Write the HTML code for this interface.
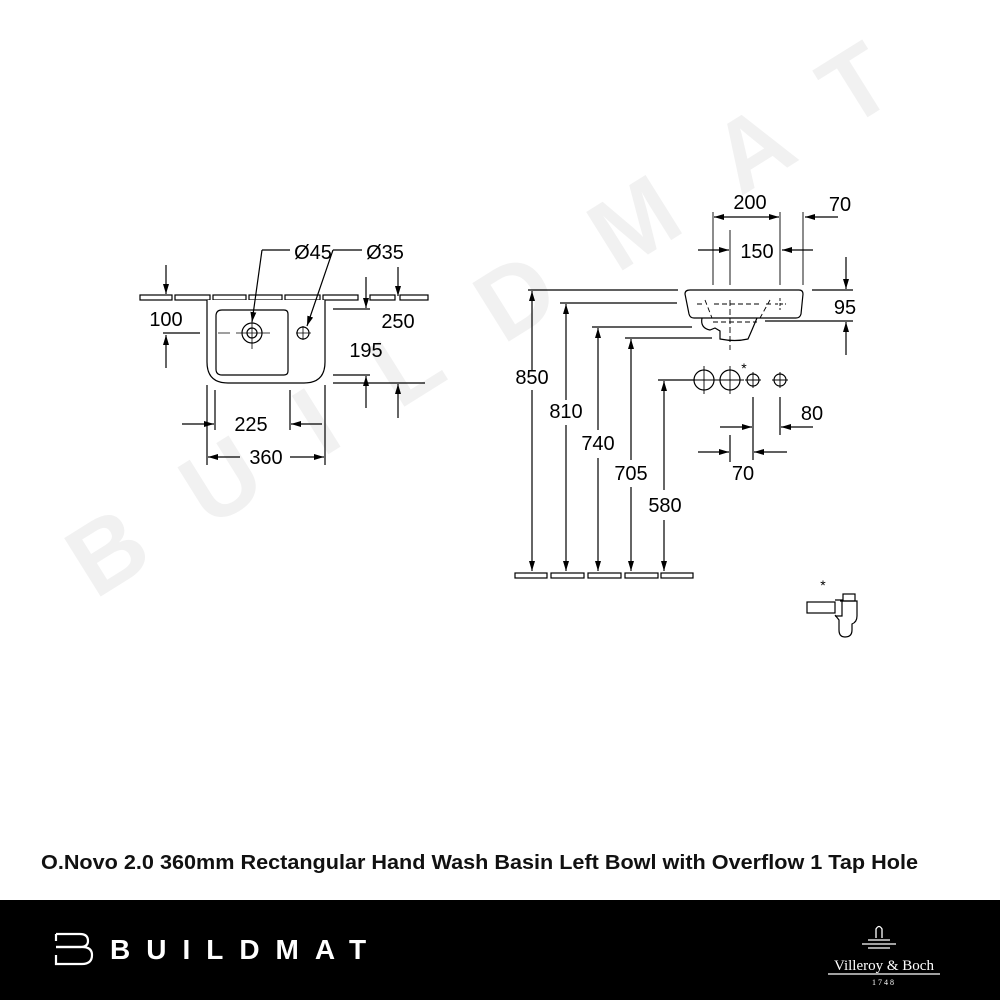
<!DOCTYPE html>
<html><head><meta charset="utf-8"><style>
html,body{margin:0;padding:0;background:#fff;width:1000px;height:1000px;overflow:hidden}
svg{display:block}
</style></head><body>
<svg width="1000" height="1000" viewBox="0 0 1000 1000" xmlns="http://www.w3.org/2000/svg">
<defs>
<marker id="a" viewBox="0 0 10 6" refX="10" refY="3" markerWidth="10" markerHeight="6" markerUnits="userSpaceOnUse" orient="auto"><path d="M0,0 L10,3 L0,6 Z" fill="#000"/></marker>
</defs>
<!-- watermark -->
<text x="0" y="0" transform="translate(95,600) rotate(-32)" font-family="Liberation Sans, sans-serif" font-weight="bold" font-size="100" fill="#f1f1f1" letter-spacing="62">BUILDMAT</text>

<g stroke="#000" stroke-width="1.2" fill="none" font-family="Liberation Sans, sans-serif">
<!-- LEFT VIEW -->
<g fill="none">
<rect x="140" y="295" width="32" height="5"/><rect x="175" y="295" width="35" height="5"/><rect x="213" y="295" width="33" height="5"/><rect x="249" y="295" width="33" height="5"/><rect x="285" y="295" width="35" height="5"/><rect x="323" y="295" width="35" height="5"/><rect x="370" y="295" width="25" height="5"/><rect x="400" y="295" width="28" height="5"/>
</g>
<path d="M207,300 V362 Q207,383 228,383 H304 Q325,383 325,362 V300" fill="#fff"/>
<path d="M222,310 H284 Q288,310 288,314 V371 Q288,375 284,375 H222 Q216,375 216,369 V316 Q216,310 222,310 Z"/>
<circle cx="252" cy="333" r="10"/><circle cx="252" cy="333" r="5"/>
<circle cx="303" cy="333" r="6"/>
<path d="M218,333 H230 M236,333 H270 M252,318 V349 M296,333 H311 M303,326 V340" stroke-width="0.8"/>
<path d="M262,250 H290 M262,250 L252,322" marker-end="url(#a)"/>
<path d="M333,250 H362 M333,250 L307,326" marker-end="url(#a)"/>
<!-- 100 -->
<path d="M166,265 V294" marker-end="url(#a)"/><path d="M166,368 V335" marker-end="url(#a)"/>
<path d="M163,333 H200"/>
<!-- 250/195 -->
<path d="M366,277 V308" marker-end="url(#a)"/><path d="M333,309 H370"/>
<path d="M398,267 V296" marker-end="url(#a)"/>
<path d="M333,375 H370 M333,383 H425"/>
<path d="M366,408 V376" marker-end="url(#a)"/><path d="M398,418 V384" marker-end="url(#a)"/>
<!-- 225 -->
<path d="M215,390 V430 M290,390 V430"/>
<path d="M182,424 H214" marker-end="url(#a)"/><path d="M322,424 H291" marker-end="url(#a)"/>
<!-- 360 -->
<path d="M207,385 V465 M325,385 V465"/>
<path d="M240,457 H208" marker-end="url(#a)"/><path d="M290,457 H324" marker-end="url(#a)"/>

<!-- RIGHT VIEW -->
<path d="M690,290 H799 Q803,290 803,294 L801,314 Q800,318 796,318 H694 Q690,318 689,314 L685,294 Q685,290 690,290 Z"/>
<path d="M702,318 Q700,328 710,330 L715,328 L720,331 V339 Q735,342 748,339 Q752,330 757,318" />
<path d="M705,300 L712,318 M770,300 L760,318 M697,304 H705 M714,304 H760 M766,304 H773 M713,322 H757" stroke-dasharray="5,3" stroke-width="0.9"/>
<path d="M780,298 V310 M775,304 H786" stroke-width="0.9" stroke-dasharray="3,2"/>
<path d="M713,212 V285 M730,230 V285 M780,212 V285 M803,212 V285" stroke-width="0.9"/>
<path d="M730,300 V350" stroke-dasharray="6,3" stroke-width="0.9"/>
<path d="M747,217 H714" marker-end="url(#a)"/><path d="M747,217 H779" marker-end="url(#a)"/>
<path d="M838,217 H805" marker-end="url(#a)"/>
<path d="M698,250 H729" marker-end="url(#a)"/><path d="M813,250 H782" marker-end="url(#a)"/>
<!-- 95 -->
<path d="M846,257 V289" marker-end="url(#a)"/><path d="M812,290 H853 M765,321 H853"/>
<path d="M846,355 V322" marker-end="url(#a)"/>
<!-- heights -->
<path d="M528,290 H678 M560,303 H677 M592,327 H692 M625,338 H712 M658,380 H695"/>
<path d="M532,370 V291" marker-end="url(#a)"/><path d="M532,390 V571" marker-end="url(#a)"/>
<path d="M566,400 V304" marker-end="url(#a)"/><path d="M566,425 V571" marker-end="url(#a)"/>
<path d="M598,430 V328" marker-end="url(#a)"/><path d="M598,458 V571" marker-end="url(#a)"/>
<path d="M631,460 V339" marker-end="url(#a)"/><path d="M631,487 V571" marker-end="url(#a)"/>
<path d="M664,490 V381" marker-end="url(#a)"/><path d="M664,520 V571" marker-end="url(#a)"/>
<rect x="515" y="573" width="32" height="5"/><rect x="551" y="573" width="33" height="5"/><rect x="588" y="573" width="33" height="5"/><rect x="625" y="573" width="33" height="5"/><rect x="661" y="573" width="32" height="5"/>
<!-- tap holes -->
<circle cx="704" cy="380" r="10"/><circle cx="730" cy="380" r="10"/><circle cx="753" cy="380" r="6"/><circle cx="780" cy="380" r="6"/>
<path d="M690,380 H718 M704,366 V394 M716,380 H744 M730,366 V394 M745,380 H761 M753,372 V388 M772,380 H788 M780,372 V388" stroke-width="0.9"/>
<!-- 80 / 70 -->
<path d="M753,397 V460 M780,397 V435 M730,435 V462"/>
<path d="M720,427 H752" marker-end="url(#a)"/><path d="M813,427 H781" marker-end="url(#a)"/>
<path d="M698,452 H729" marker-end="url(#a)"/><path d="M787,452 H754" marker-end="url(#a)"/>
<!-- trap -->
<rect x="807" y="602" width="28" height="11"/>
<path d="M835,600 H842 V616 H835"/>
<rect x="843" y="594" width="12" height="7"/>
<path d="M840,601 H857 V616 Q857,622 852,624 V630 Q852,637 845,637 Q839,637 839,630 V620 L835,615"/>
</g>

<g font-family="Liberation Sans, sans-serif" font-size="20" fill="#000" text-anchor="middle">
<text x="313" y="259">Ø45</text><text x="385" y="259">Ø35</text>
<text x="166" y="326">100</text><text x="398" y="328">250</text><text x="366" y="357">195</text>
<text x="251" y="431">225</text><text x="266" y="464">360</text>
<text x="750" y="209">200</text><text x="840" y="211">70</text><text x="757" y="258">150</text>
<text x="845" y="314">95</text>
<text x="532" y="384">850</text><text x="566" y="418">810</text><text x="598" y="450">740</text><text x="631" y="480">705</text><text x="665" y="512">580</text>
<text x="812" y="420">80</text><text x="743" y="480">70</text>
<text x="744" y="373" font-size="14">*</text><text x="823" y="590" font-size="14">*</text>
</g>

<text x="41" y="869" textLength="877" lengthAdjust="spacingAndGlyphs" font-family="Liberation Sans, sans-serif" font-size="20" font-weight="bold" fill="#111">O.Novo 2.0 360mm Rectangular Hand Wash Basin Left Bowl with Overflow 1 Tap Hole</text>

<rect x="0" y="900" width="1000" height="100" fill="#000"/>
<g stroke="#fff" stroke-width="2.2" fill="none">
<path d="M56,934 H80 Q88,934 88,941 Q88,947 80,947 H56"/>
<path d="M56,947 H82 Q92,947 92,955 Q92,964 82,964 H56 V955"/>
<path d="M56,934 V941"/>
</g>
<text x="110" y="959" font-family="Liberation Sans, sans-serif" font-size="28" font-weight="bold" fill="#fff" letter-spacing="16">BUILDMAT</text>
<g stroke="#fff" fill="none" stroke-width="1.3">
<path d="M876,938 V929 Q879,924 882,929 V938"/>
<path d="M868,940 H890 M862,944 H896 M868,948 H890"/>
<path d="M828,974 H940"/>
</g>
<text x="884" y="970" text-anchor="middle" font-family="Liberation Serif, serif" font-size="15" fill="#fff">Villeroy &amp; Boch</text>
<text x="884" y="985" text-anchor="middle" font-family="Liberation Serif, serif" font-size="8" fill="#fff" letter-spacing="2">1748</text>
</svg>
</body></html>
